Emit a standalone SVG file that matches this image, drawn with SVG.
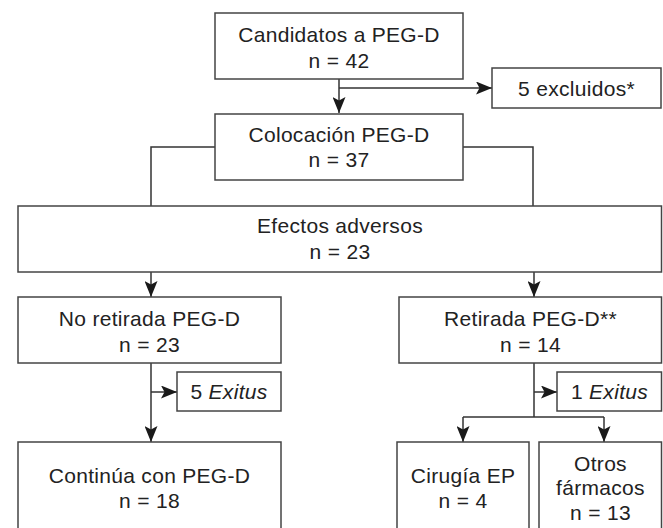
<svg xmlns="http://www.w3.org/2000/svg" width="663" height="528" viewBox="0 0 663 528">
<style>
.box{fill:#fff;stroke:#444;stroke-width:1.5}
.ln{fill:none;stroke:#333;stroke-width:1.5}
text{font-family:"Liberation Sans",Arial,sans-serif;font-size:21px;fill:#222;text-anchor:middle;letter-spacing:0.3px}
.it{font-style:italic}
</style>
<defs>
<marker id="ah" viewBox="0 0 16 13" refX="16" refY="6.5" markerWidth="16" markerHeight="13" markerUnits="userSpaceOnUse" orient="auto">
<path d="M0,0 L16,6.5 L0,13 L3.5,6.5 z" fill="#1a1a1a"/>
</marker>
</defs>
<rect width="663" height="528" fill="#fff"/>
<g id="connectors">
<line class="ln" x1="339" y1="79" x2="339" y2="113" marker-end="url(#ah)"/>
<line class="ln" x1="339" y1="88" x2="492" y2="88" marker-end="url(#ah)"/>
<polyline class="ln" points="215,147 151,147 151,206"/>
<polyline class="ln" points="463,147 533,147 533,206"/>
<line class="ln" x1="151" y1="272" x2="151" y2="297" marker-end="url(#ah)"/>
<line class="ln" x1="534" y1="272" x2="534" y2="297" marker-end="url(#ah)"/>
<line class="ln" x1="151" y1="363" x2="151" y2="442" marker-end="url(#ah)"/>
<line class="ln" x1="151" y1="392" x2="177" y2="392" marker-end="url(#ah)"/>
<line class="ln" x1="534" y1="363" x2="534" y2="417"/>
<line class="ln" x1="534" y1="392" x2="557" y2="392" marker-end="url(#ah)"/>
<polyline class="ln" points="463,417 604,417"/>
<line class="ln" x1="463" y1="417" x2="463" y2="442" marker-end="url(#ah)"/>
<line class="ln" x1="604" y1="417" x2="604" y2="442" marker-end="url(#ah)"/>
</g>
<g id="candidatos">
<rect class="box" x="215" y="13" width="248" height="66"/>
<text x="339" y="42">Candidatos a PEG-D</text>
<text x="339" y="68">n = 42</text>
</g>
<g id="excluidos">
<rect class="box" x="492" y="68" width="169" height="40"/>
<text x="576.5" y="96">5 excluidos*</text>
</g>
<g id="colocacion">
<rect class="box" x="215" y="114" width="248" height="66"/>
<text x="339" y="142">Colocación PEG-D</text>
<text x="339" y="167">n = 37</text>
</g>
<g id="efectos">
<rect class="box" x="18" y="206" width="643.5" height="66"/>
<text x="340" y="233">Efectos adversos</text>
<text x="340" y="259">n = 23</text>
</g>
<g id="noretirada">
<rect class="box" x="18" y="297" width="263" height="66"/>
<text x="149.5" y="326">No retirada PEG-D</text>
<text x="149.5" y="352">n = 23</text>
</g>
<g id="retirada">
<rect class="box" x="399" y="297" width="262.5" height="66"/>
<text x="530.5" y="326">Retirada PEG-D**</text>
<text x="530.5" y="352">n = 14</text>
</g>
<g id="exitus5">
<rect class="box" x="177" y="372" width="104" height="39"/>
<text x="229" y="399">5 <tspan class="it">Exitus</tspan></text>
</g>
<g id="exitus1">
<rect class="box" x="557" y="372" width="104.5" height="39"/>
<text x="609.5" y="399">1 <tspan class="it">Exitus</tspan></text>
</g>
<g id="continua">
<rect class="box" x="18" y="442" width="263" height="95"/>
<text x="149.5" y="483">Continúa con PEG-D</text>
<text x="149.5" y="508">n = 18</text>
</g>
<g id="cirugia">
<rect class="box" x="397" y="442" width="132" height="95"/>
<text x="463" y="483">Cirugía EP</text>
<text x="463" y="508">n = 4</text>
</g>
<g id="otros">
<rect class="box" x="539" y="442" width="122.5" height="95"/>
<text x="600.5" y="471">Otros</text>
<text x="600.5" y="495">fármacos</text>
<text x="600.5" y="520">n = 13</text>
</g>
</svg>
